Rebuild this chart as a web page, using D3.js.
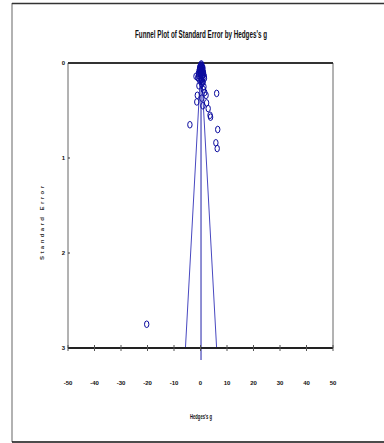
<!DOCTYPE html>
<html>
<head>
<meta charset="utf-8">
<script src="https://cdn.jsdelivr.net/npm/d3@7"></script>
<style>
  body { margin: 0; background: #fff; }
  text { font-family: "Liberation Sans Narrow", "Liberation Sans", Arial, sans-serif; font-weight: bold; fill: #111; }
</style>
</head>
<body>
<div id="chart"></div>
<script>
// studies: Hedges's g and standard error
var hedgesG = [0.2, 0.5, -0.3, 0.8, 0.1, -0.5, 1.0, 0.4, -0.8, 1.2, 0.0, 0.7, -1.0, 1.5, 0.3,
  -0.2, 1.0, 0.5, -0.6, 1.3, -1.7, -1.2, -1.4, 1.1, 2.1, 2.3, 2.9, 3.6, 3.8, 0.5,
  1.6, 0.9, 6.1, -4.0, 6.5, 5.8, 6.3, -20.3,
  0.3, 0.0, 0.6, -0.2, 0.9, 0.4, -0.4, 0.7, 0.2, 1.1, -0.1, 0.6, -0.7, 0.9, 1.4, -0.9, 0.3, 0.8];
var stdErr = [0.02, 0.04, 0.05, 0.06, 0.07, 0.08, 0.09, 0.10, 0.11, 0.12, 0.13, 0.14, 0.15, 0.16, 0.17,
  0.19, 0.20, 0.22, 0.24, 0.25, 0.14, 0.34, 0.41, 0.28, 0.34, 0.42, 0.48, 0.55, 0.57, 0.37,
  0.31, 0.45, 0.32, 0.65, 0.70, 0.84, 0.90, 2.75,
  0.01, 0.03, 0.03, 0.04, 0.05, 0.06, 0.07, 0.08, 0.09, 0.10, 0.11, 0.12, 0.13, 0.13, 0.14, 0.16, 0.18, 0.20];
var meanG = 0.2;
var xTicks = [-50, -40, -30, -20, -10, 0, 10, 20, 30, 40, 50];
var yTicks = [0, 1, 2, 3];

var W = 384, H = 443;
var margin = {top: 63, right: 51, bottom: 95, left: 68};

var svg = d3.select("#chart").append("svg")
  .attr("width", W)
  .attr("height", H);

// outer frame
svg.append("line").attr("x1", 12).attr("x2", 12).attr("y1", 3).attr("y2", 442)
  .attr("stroke", "#999").attr("stroke-width", 1.5);
svg.append("line").attr("x1", 12).attr("x2", W).attr("y1", 3.5).attr("y2", 3.5)
  .attr("stroke", "#333").attr("stroke-width", 1.5);
svg.append("line").attr("x1", 12).attr("x2", W).attr("y1", 442).attr("y2", 442)
  .attr("stroke", "#111").attr("stroke-width", 1.5);

var x = d3.scaleLinear().domain([-50, 50]).range([margin.left, W - margin.right]);
var y = d3.scaleLinear().domain([0, 3]).range([margin.top, H - margin.bottom]);

// plot box
svg.append("line").attr("x1", x(-50)).attr("x2", x(-50)).attr("y1", y(0)).attr("y2", y(3))
  .attr("stroke", "#666").attr("stroke-width", 1);
svg.append("line").attr("x1", x(50)).attr("x2", x(50)).attr("y1", y(0)).attr("y2", y(3))
  .attr("stroke", "#666").attr("stroke-width", 1);

// funnel
var blueLine = "#4848c0";
svg.append("line").attr("x1", x(meanG)).attr("x2", x(meanG)).attr("y1", y(0)).attr("y2", y(3) + 12)
  .attr("stroke", "#2020a8").attr("stroke-width", 1);
svg.append("line").attr("x1", x(meanG)).attr("x2", x(meanG - 1.96 * 3)).attr("y1", y(0)).attr("y2", y(3))
  .attr("stroke", blueLine).attr("stroke-width", 1);
svg.append("line").attr("x1", x(meanG)).attr("x2", x(meanG + 1.96 * 3)).attr("y1", y(0)).attr("y2", y(3))
  .attr("stroke", blueLine).attr("stroke-width", 1);

// top & bottom axis lines
svg.append("line").attr("x1", x(-50)).attr("x2", x(50)).attr("y1", y(0)).attr("y2", y(0))
  .attr("stroke", "#333").attr("stroke-width", 2);
svg.append("line").attr("x1", x(-50)).attr("x2", x(50)).attr("y1", y(3)).attr("y2", y(3))
  .attr("stroke", "#222").attr("stroke-width", 2);

// x ticks
svg.selectAll(".xtick").data(xTicks)
  .enter().append("line")
  .attr("x1", function(d) { return x(d); }).attr("x2", function(d) { return x(d); })
  .attr("y1", y(3) - 3).attr("y2", y(3) + 3)
  .attr("stroke", "#555").attr("stroke-width", 1);
svg.selectAll(".xlab").data(xTicks)
  .enter().append("text")
  .attr("x", function(d) { return x(d); })
  .attr("y", 385)
  .attr("text-anchor", "middle")
  .style("font-size", "6px")
  .text(function(d) { return d; });

// y ticks
svg.selectAll(".ytick").data(yTicks)
  .enter().append("line")
  .attr("x1", x(-50)).attr("x2", x(-50) + 2)
  .attr("y1", function(d) { return y(d); }).attr("y2", function(d) { return y(d); })
  .attr("stroke", "#333").attr("stroke-width", 1);
svg.selectAll(".ylab").data(yTicks)
  .enter().append("text")
  .attr("x", x(-50) - 3)
  .attr("y", function(d) { return y(d) + 2; })
  .attr("text-anchor", "end")
  .style("font-size", "6px")
  .text(function(d) { return d; });

// points
svg.selectAll(".pt").data(hedgesG)
  .enter().append("ellipse")
  .attr("cx", function(d) { return x(d); })
  .attr("cy", function(d, i) { return y(stdErr[i]); })
  .attr("rx", 2.2)
  .attr("ry", 3.3)
  .attr("fill", "none")
  .attr("stroke", "#0a0a9e")
  .attr("stroke-width", 1);

// titles
svg.append("text")
  .attr("x", 201).attr("y", 38)
  .attr("text-anchor", "middle")
  .attr("textLength", 132).attr("lengthAdjust", "spacingAndGlyphs")
  .style("font-size", "10px")
  .text("Funnel Plot of Standard Error by Hedges's g");

svg.append("text")
  .attr("x", 201).attr("y", 419)
  .attr("text-anchor", "middle")
  .attr("textLength", 22).attr("lengthAdjust", "spacingAndGlyphs")
  .style("font-size", "6.5px")
  .text("Hedges's g");

svg.append("text")
  .attr("transform", "translate(44,223) rotate(-90)")
  .attr("text-anchor", "middle")
  .attr("textLength", 74).attr("lengthAdjust", "spacing")
  .style("font-size", "6px")
  .style("fill", "#333")
  .style("font-family", "'Liberation Sans', Arial, sans-serif")
  .text("Standard Error");
</script>
</body>
</html>
